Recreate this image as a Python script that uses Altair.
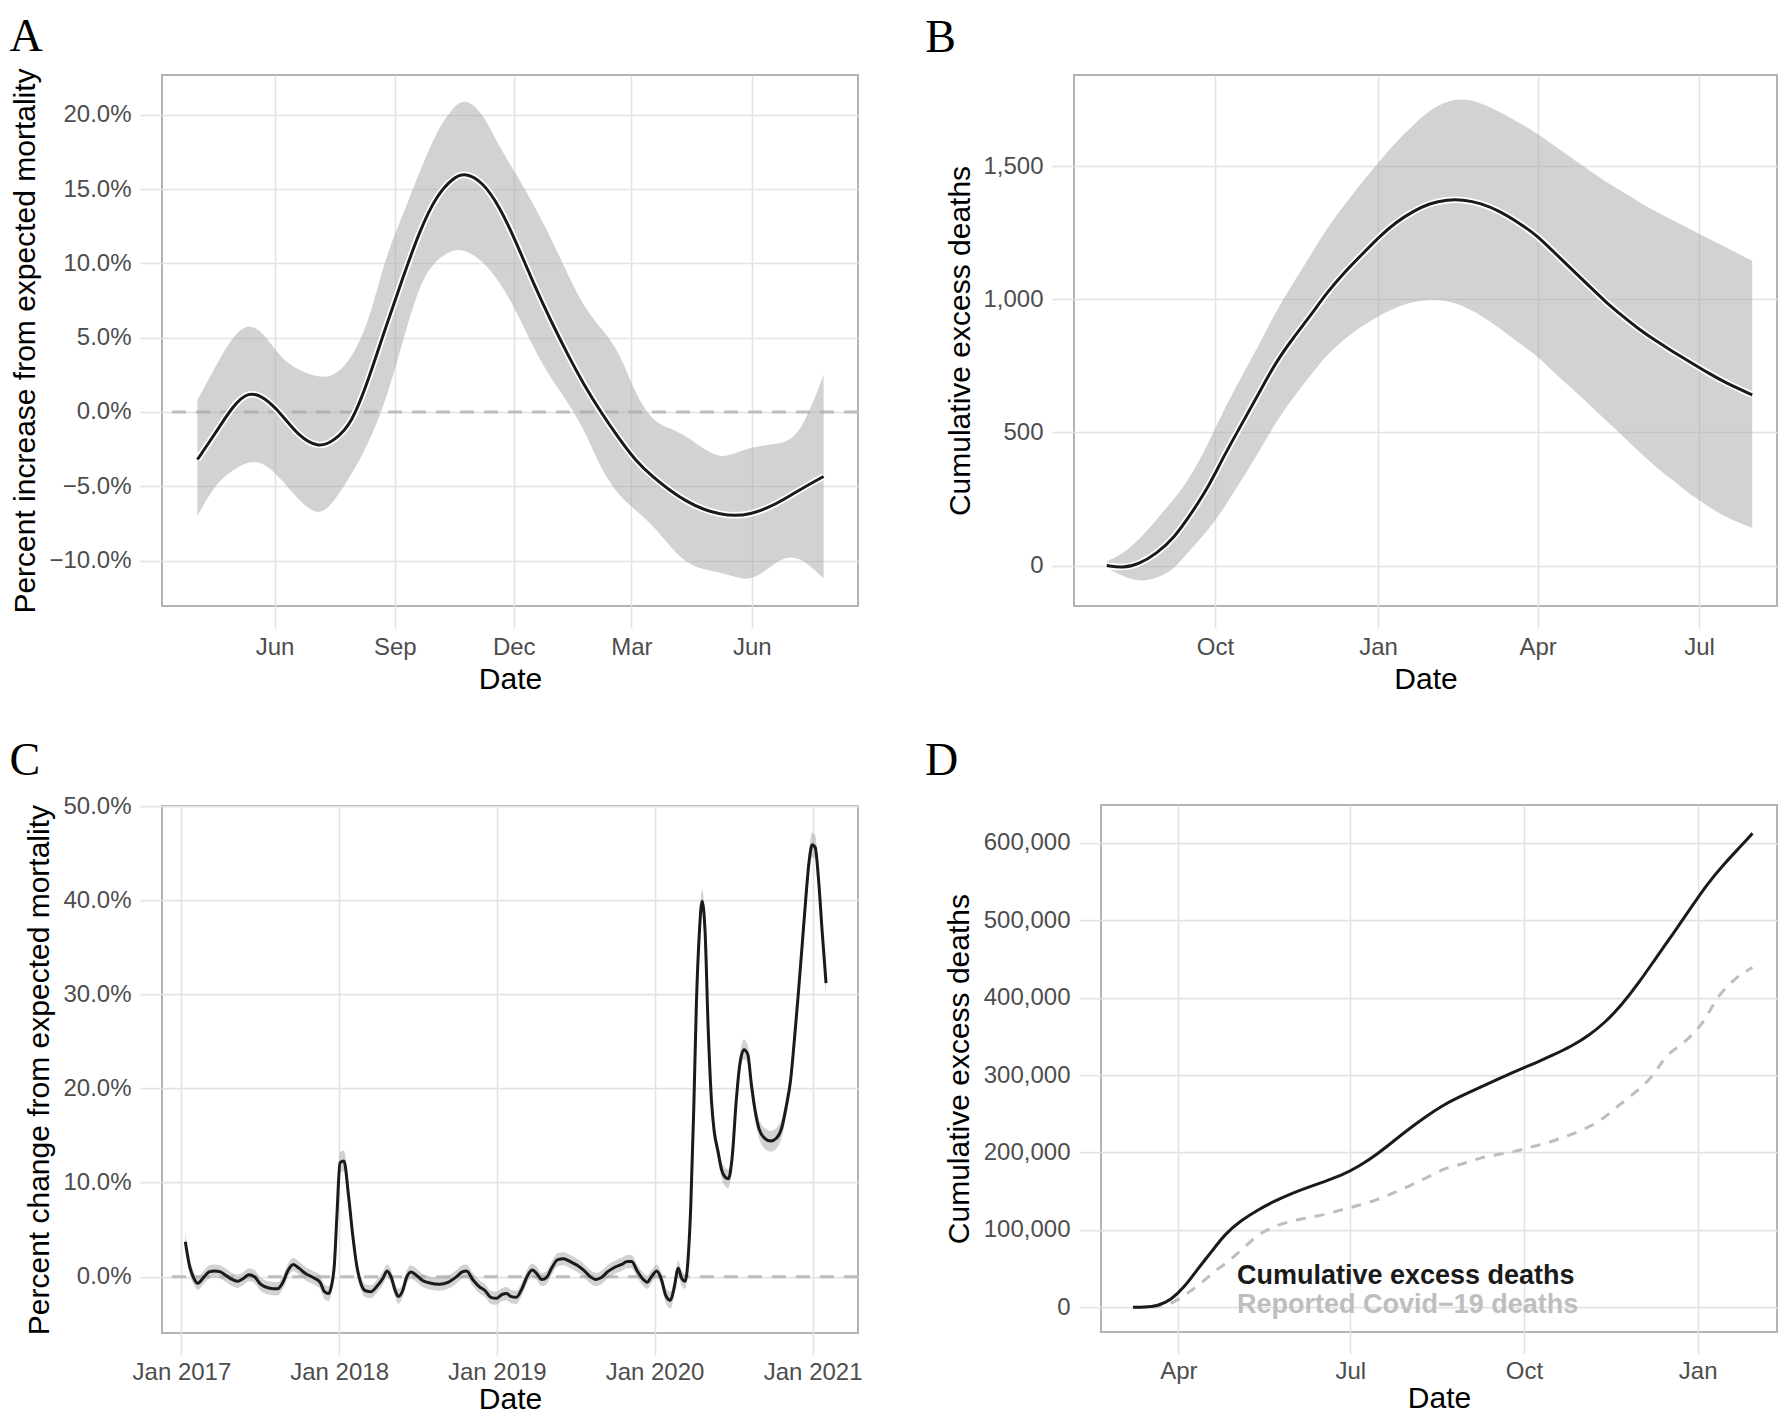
import altair as alt
import pandas as pd

SANS = "Liberation Sans"
SERIF = "Liberation Serif"
BLACK = "#1a1a1a"
RIBBON = "#a6a6a6"
LIGHT = "#bebebe"
PCT = "format(datum.value, '.1f') + '%'"
COMMA = "format(datum.value, ',')"
ZERO = [0]

# ---------------- Panel A ----------------
A_DATES = ["2017-04-03", "2017-04-17", "2017-04-30", "2017-05-12", "2017-05-24", "2017-06-06",
           "2017-06-19", "2017-07-05", "2017-07-17", "2017-07-30", "2017-08-12", "2017-08-25",
           "2017-09-07", "2017-09-20", "2017-10-03", "2017-10-16", "2017-10-25", "2017-11-07",
           "2017-11-20", "2017-12-03", "2017-12-16", "2017-12-29", "2018-01-11", "2018-01-24",
           "2018-02-06", "2018-02-19", "2018-03-04", "2018-03-17", "2018-03-30", "2018-04-12",
           "2018-04-25", "2018-05-08", "2018-05-19", "2018-05-31", "2018-06-13", "2018-06-26",
           "2018-07-09", "2018-07-26"]
A_MEAN = [-3.2, -1.4, 0.4, 1.4, 1.0, -0.1, -1.6, -2.45, -1.9, -0.8, 2.2, 5.7, 9.0, 12.2, 14.6,
          15.8, 16.1, 15.5, 13.85, 11.4, 8.65, 6.2, 3.9, 1.77, -0.06, -1.74, -3.27, -4.34, -5.26,
          -6.02, -6.57, -6.88, -7.0, -6.88, -6.48, -5.87, -5.17, -4.34]
A_HI = [0.8, 3.1, 5.1, 6.0, 5.3, 3.6, 2.8, 2.3, 2.4, 3.6, 6.0, 10.5, 13.2, 16.2, 18.9, 20.6, 21.1,
        20.2, 17.8, 16.0, 14.0, 11.8, 9.3, 7.0, 5.6, 4.2, 1.2, -0.6, -1.1, -1.6, -2.5, -3.1, -2.8,
        -2.4, -2.2, -2.1, -1.4, 2.5]
A_LO = [-7.0, -4.8, -3.9, -3.3, -3.4, -4.5, -5.9, -7.1, -6.0, -4.2, -2.1, 0.7, 4.7, 8.7, 10.3,
        10.95, 10.9, 10.2, 8.8, 6.8, 4.3, 2.3, 0.7, -1.2, -3.9, -5.6, -6.6, -7.6, -9.0, -10.2,
        -10.6, -10.8, -11.1, -11.35, -10.6, -9.7, -9.8, -11.2]
A_XTICKS = ["2017-06-01", "2017-09-01", "2017-12-01", "2018-03-01", "2018-06-01"]
A_XDOMAIN = ["2017-03-06T22:00", "2018-08-21T07:00"]
A_YTICKS = [-10, -5, 0, 5, 10, 15, 20]
A_YDOMAIN = [-13.06, 22.68]
A_YTITLE = "Percent increase from expected mortality"

# ---------------- Panel B ----------------
B_DATES = ["2017-08-01", "2017-08-10", "2017-08-19", "2017-08-29", "2017-09-08", "2017-09-17",
           "2017-09-27", "2017-10-06", "2017-10-16", "2017-10-26", "2017-11-04", "2017-11-14",
           "2017-11-24", "2017-12-03", "2017-12-13", "2017-12-23", "2018-01-02", "2018-01-11",
           "2018-01-21", "2018-01-30", "2018-02-09", "2018-02-18", "2018-02-28", "2018-03-10",
           "2018-03-23", "2018-04-01", "2018-04-10", "2018-04-20", "2018-04-30", "2018-05-09",
           "2018-05-19", "2018-05-28", "2018-06-07", "2018-06-17", "2018-06-26", "2018-07-06",
           "2018-07-16", "2018-07-31"]
B_MEAN = [0, -10, 5, 44, 104, 189, 291, 411, 530, 649, 760, 854, 939, 1024, 1101, 1169, 1237,
          1289, 1331, 1360, 1374, 1374, 1360, 1333, 1280, 1237, 1178, 1114, 1050, 992, 936, 888,
          842, 800, 764, 724, 686, 641]
B_HI = [15, 44, 95, 172, 250, 330, 455, 585, 710, 830, 950, 1060, 1165, 1265, 1355, 1440, 1520,
        1590, 1655, 1710, 1745, 1754, 1737, 1706, 1658, 1621, 1578, 1531, 1485, 1442, 1403, 1365,
        1328, 1294, 1263, 1229, 1195, 1144]
B_LO = [-7, -41, -61, -49, -15, 60, 130, 215, 320, 430, 535, 630, 715, 790, 850, 900, 940, 970,
        990, 1000, 995, 975, 940, 895, 828, 786, 726, 666, 607, 547, 487, 428, 368, 317, 266,
        223, 181, 141]
B_XTICKS = ["2017-10-01", "2018-01-01", "2018-04-01", "2018-07-01"]
B_XDOMAIN = ["2017-07-13T12:00", "2018-08-14T00:00"]
B_YTICKS = [0, 500, 1000, 1500]
B_YDOMAIN = [-152, 1842]
B_YTITLE = "Cumulative excess deaths"

# ---------------- Panel C ----------------
C_DATES = [
    "2017-01-10", "2017-01-19", "2017-01-30", "2017-02-08", "2017-02-21", "2017-03-06", "2017-03-19", "2017-04-01", "2017-04-15", "2017-04-28",
    "2017-05-11", "2017-05-24", "2017-06-06", "2017-06-19", "2017-07-03", "2017-07-22", "2017-08-11", "2017-08-24", "2017-09-04", "2017-09-17",
    "2017-09-30", "2017-10-16", "2017-11-02", "2017-11-18", "2017-11-28", "2017-12-08", "2017-12-14", "2017-12-21", "2017-12-27", "2018-01-03",
    "2018-01-12", "2018-01-23", "2018-02-02", "2018-02-11", "2018-02-21", "2018-03-03", "2018-03-16", "2018-03-29", "2018-04-12", "2018-04-22",
    "2018-05-01", "2018-05-11", "2018-05-18", "2018-05-28", "2018-06-06", "2018-06-16", "2018-06-30", "2018-07-13", "2018-08-01", "2018-08-21",
    "2018-09-10", "2018-09-30", "2018-10-13", "2018-10-23", "2018-11-06", "2018-11-21", "2018-12-05", "2018-12-18", "2018-12-31", "2019-01-13",
    "2019-01-24", "2019-02-02", "2019-02-15", "2019-02-28", "2019-03-13", "2019-03-24", "2019-04-02", "2019-04-15", "2019-04-26", "2019-05-09",
    "2019-05-22", "2019-06-04", "2019-06-20", "2019-07-06", "2019-07-23", "2019-08-05", "2019-08-18", "2019-08-31", "2019-09-14", "2019-10-01",
    "2019-10-17", "2019-10-30", "2019-11-09", "2019-11-22", "2019-12-06", "2019-12-15", "2019-12-25", "2020-01-06", "2020-01-17", "2020-01-27",
    "2020-02-07", "2020-02-15", "2020-02-25", "2020-03-04", "2020-03-12", "2020-03-20", "2020-03-25", "2020-04-01", "2020-04-07", "2020-04-14",
    "2020-04-20", "2020-04-27", "2020-05-04", "2020-05-12", "2020-05-18", "2020-05-27", "2020-06-04", "2020-06-12", "2020-06-20", "2020-06-29",
    "2020-07-08", "2020-07-16", "2020-07-26", "2020-08-04", "2020-08-12", "2020-08-21", "2020-08-30", "2020-09-12", "2020-09-26", "2020-10-09",
    "2020-10-22", "2020-11-01", "2020-11-11", "2020-11-20", "2020-11-28", "2020-12-07", "2020-12-16", "2020-12-24", "2020-12-31", "2021-01-07",
    "2021-01-15", "2021-01-23", "2021-02-01"]
C_MEAN = [
    3.7, 1.3, -0.2, -0.7, -0.1, 0.5, 0.6, 0.5, 0.1, -0.3,
    -0.5, -0.2, 0.2, 0.0, -0.8, -1.2, -1.3, -0.6, 0.6, 1.3,
    0.9, 0.3, -0.1, -0.6, -1.6, -1.8, -1.05, 1.3, 6.6, 12.1,
    12.3, 8.5, 4.2, 1.1, -0.8, -1.5, -1.6, -1.05, -0.2, 0.6,
    0.0, -1.5, -2.1, -1.5, -0.1, 0.5, 0.1, -0.4, -0.7, -0.8,
    -0.6, 0.0, 0.5, 0.6, -0.3, -1.05, -1.5, -2.2, -2.3, -1.9,
    -1.8, -2.1, -2.2, -1.3, 0.1, 0.7, 0.4, -0.3, -0.1, 1.0,
    1.8, 1.9, 1.6, 1.2, 0.6, 0.0, -0.3, -0.1, 0.5, 1.0,
    1.3, 1.6, 1.6, 0.6, -0.3, -0.6, 0.0, 0.6, -0.3, -2.0,
    -2.5, -1.3, 0.9, -0.2, -0.5, 2.8, 7.6, 18.1, 29.1, 36.7,
    39.9, 36.7, 26.7, 18.6, 15.5, 13.3, 11.4, 10.6, 10.4, 12.8,
    18.6, 22.4, 24.1, 23.6, 20.5, 17.6, 15.7, 14.7, 14.4, 14.7,
    15.9, 18.1, 20.9, 25.3, 29.6, 34.8, 40.1, 44.2, 45.9, 45.6,
    42.0, 36.7, 31.2]
C_LO = [
    2.9, 0.5, -0.9, -1.4, -0.8, -0.2, -0.1, -0.2, -0.6, -1.0,
    -1.2, -0.9, -0.5, -0.7, -1.5, -1.9, -2.0, -1.3, -0.1, 0.6,
    0.2, -0.4, -0.8, -1.3, -2.4, -2.6, -1.8, 0.5, 5.7, 11.0,
    11.2, 7.5, 3.3, 0.3, -1.5, -2.2, -2.3, -1.75, -0.9, -0.1,
    -0.7, -2.2, -2.9, -2.2, -0.8, -0.2, -0.6, -1.1, -1.4, -1.5,
    -1.3, -0.7, -0.2, -0.1, -1.0, -1.75, -2.2, -2.9, -3.0, -2.6,
    -2.5, -2.8, -2.9, -2.0, -0.6, 0.0, -0.3, -1.0, -0.8, 0.3,
    1.1, 1.2, 0.9, 0.5, -0.1, -0.7, -1.0, -0.8, -0.2, 0.3,
    0.6, 0.9, 0.9, -0.1, -1.0, -1.3, -0.7, -0.1, -1.0, -2.8,
    -3.4, -2.1, 0.1, -1.0, -1.3, 2.0, 6.8, 17.2, 28.1, 35.6,
    38.8, 35.6, 25.7, 17.7, 14.6, 12.4, 10.5, 9.6, 9.4, 11.9,
    17.7, 21.4, 23.1, 22.6, 19.5, 16.6, 14.7, 13.6, 13.3, 13.6,
    14.9, 17.1, 19.9, 24.3, 28.6, 33.7, 39.0, 43.0, 44.6, 44.3,
    40.8, 35.5, 29.8]
C_HI = [
    4.6, 2.1, 0.5, 0.0, 0.6, 1.2, 1.3, 1.2, 0.8, 0.4,
    0.2, 0.5, 0.9, 0.7, -0.1, -0.5, -0.6, 0.1, 1.3, 2.0,
    1.6, 1.0, 0.6, 0.1, -0.8, -1.0, -0.3, 2.1, 7.5, 13.2,
    13.4, 9.5, 5.1, 1.9, -0.1, -0.8, -0.9, -0.35, 0.5, 1.3,
    0.7, -0.8, -1.3, -0.8, 0.6, 1.2, 0.8, 0.3, 0.0, -0.1,
    0.1, 0.7, 1.2, 1.3, 0.4, -0.35, -0.8, -1.5, -1.6, -1.2,
    -1.1, -1.4, -1.5, -0.6, 0.8, 1.4, 1.1, 0.4, 0.6, 1.7,
    2.5, 2.6, 2.3, 1.9, 1.3, 0.7, 0.4, 0.6, 1.2, 1.7,
    2.0, 2.3, 2.3, 1.3, 0.4, 0.1, 0.7, 1.3, 0.4, -1.2,
    -1.6, -0.5, 1.7, 0.6, 0.3, 3.6, 8.4, 19.0, 30.1, 37.8,
    41.1, 37.8, 27.7, 19.5, 16.4, 14.2, 12.3, 11.6, 11.4, 13.7,
    19.5, 23.4, 25.2, 24.6, 21.5, 18.6, 16.7, 15.8, 15.5, 15.8,
    16.9, 19.1, 21.9, 26.3, 30.6, 35.9, 41.2, 45.4, 47.2, 46.9,
    43.2, 37.9, 32.6]
C_XTICKS = ["2017-01-01", "2018-01-01", "2019-01-01", "2020-01-01", "2021-01-01"]
C_XDOMAIN = ["2016-11-17", "2021-04-16"]
C_YTICKS = [0, 10, 20, 30, 40, 50]
C_YDOMAIN = [-6.0, 50.0]
C_YTITLE = "Percent change from expected mortality"

# ---------------- Panel D ----------------
D_EXCESS_DATES = ["2020-03-08", "2020-03-14", "2020-03-21", "2020-03-28", "2020-04-04", "2020-04-11",
                  "2020-04-19", "2020-04-26", "2020-05-04", "2020-05-13", "2020-05-22", "2020-05-31",
                  "2020-06-09", "2020-06-18", "2020-06-27", "2020-07-06", "2020-07-15", "2020-07-24",
                  "2020-08-02", "2020-08-11", "2020-08-20", "2020-08-30", "2020-09-08", "2020-09-17",
                  "2020-09-26", "2020-10-08", "2020-10-17", "2020-10-26", "2020-11-04", "2020-11-13",
                  "2020-11-22", "2020-12-01", "2020-12-10", "2020-12-19", "2020-12-28", "2021-01-06",
                  "2021-01-15", "2021-01-24", "2021-01-30"]
D_EXCESS = [0, 0, 1700, 9300, 25600, 48900, 73300, 95500, 111800, 125700, 137400, 147300, 155400,
            163000, 171100, 182800, 197300, 214800, 232200, 248000, 262500, 274200, 284600, 294500,
            304400, 316600, 326500, 337000, 350400, 367900, 391200, 419700, 451700, 482500, 514600,
            546600, 572800, 596000, 612300]
D_REPORTED_DATES = ["2020-03-08", "2020-03-14", "2020-03-21", "2020-03-29", "2020-04-05", "2020-04-13",
                    "2020-04-20", "2020-04-28", "2020-05-06", "2020-05-13", "2020-05-22", "2020-05-31",
                    "2020-06-09", "2020-06-18", "2020-06-27", "2020-07-06", "2020-07-15", "2020-07-24",
                    "2020-08-02", "2020-08-11", "2020-08-20", "2020-08-30", "2020-09-08", "2020-09-17",
                    "2020-09-26", "2020-10-05", "2020-10-14", "2020-10-23", "2020-11-01", "2020-11-10",
                    "2020-11-19", "2020-11-28", "2020-12-07", "2020-12-16", "2020-12-25", "2021-01-03",
                    "2021-01-12", "2021-01-21", "2021-01-30"]
D_REPORTED = [0, 0, 1200, 6400, 16900, 31400, 46000, 60500, 78000, 92500, 104200, 111200, 115800,
              120500, 126300, 132100, 139100, 147800, 157700, 168200, 178700, 185700, 192700, 197300,
              201400, 207200, 213000, 220600, 229300, 241000, 258400, 275900, 296300, 325400, 342800,
              366100, 401000, 424300, 438900]
D_LABELS = ["Cumulative excess deaths", "Reported Covid\u221219 deaths"]
D_LABEL_DATES = ["2020-05-02", "2020-05-02"]
D_LABEL_Y = [40000, 3000]
D_XTICKS = ["2020-04-01", "2020-07-01", "2020-10-01", "2021-01-01"]
D_XDOMAIN = ["2020-02-20", "2021-02-12T00:00"]
D_YTICKS = [0, 100000, 200000, 300000, 400000, 500000, 600000]
D_YDOMAIN = [-32000, 648700]
D_YTITLE = "Cumulative excess deaths"


def ms(s):
    return int(pd.Timestamp(s, tz="UTC").value // 1_000_000)


def x_enc(domain, ticks, fmt, label_pad=7, title_pad=5):
    return alt.X("date:T", title="Date",
                 scale=alt.Scale(type="utc", domain=[ms(d) for d in domain], nice=False),
                 axis=alt.Axis(values=[ms(t) for t in ticks],
                               labelExpr="utcFormat(datum.value, '%s')" % fmt,
                               labelPadding=label_pad, titlePadding=title_pad))


def y_enc(field, title, domain, ticks, expr, extent, pad):
    return alt.Y(field + ":Q", title=title,
                 scale=alt.Scale(domain=domain, nice=False, zero=False),
                 axis=alt.Axis(values=ticks, labelExpr=expr, minExtent=extent,
                               maxExtent=extent, titlePadding=pad))


def letter(t, dx, dy):
    return alt.TitleParams(text=t, anchor="start", frame="group", font=SERIF, fontSize=46,
                           fontWeight="normal", color="black", dx=dx, dy=dy, offset=0,
                           baseline="alphabetic")


# ---- A ----
dfA = pd.DataFrame({"date": A_DATES, "mean": A_MEAN, "lo": A_LO, "hi": A_HI})
xA = x_enc(A_XDOMAIN, A_XTICKS, "%b")


def yA(f):
    return y_enc(f, A_YTITLE, A_YDOMAIN, A_YTICKS, PCT, 112, 10)


zeroA = alt.Chart(pd.DataFrame({"v": ZERO})).mark_rule(
    color=LIGHT, strokeWidth=3, strokeDash=[14, 10]).encode(y=yA("v"))
bandA = alt.Chart(dfA).mark_area(color=RIBBON, opacity=0.5, interpolate="basis").encode(
    x=xA, y=yA("lo"), y2="hi:Q")
haloA = alt.Chart(dfA).mark_line(color="white", strokeWidth=6.5, interpolate="basis").encode(
    x=xA, y=yA("mean"))
lineA = alt.Chart(dfA).mark_line(color=BLACK, strokeWidth=3, interpolate="basis").encode(
    x=xA, y=yA("mean"))
A = alt.layer(zeroA, bandA, haloA, lineA).properties(
    width=696, height=531, title=letter("A", -152.5, 29))

# ---- B ----
dfB = pd.DataFrame({"date": B_DATES, "mean": B_MEAN, "lo": B_LO, "hi": B_HI})
xB = x_enc(B_XDOMAIN, B_XTICKS, "%b")


def yB(f):
    return y_enc(f, B_YTITLE, B_YDOMAIN, B_YTICKS, COMMA, 91, 8)


bandB = alt.Chart(dfB).mark_area(color=RIBBON, opacity=0.5, interpolate="basis").encode(
    x=xB, y=yB("lo"), y2="hi:Q")
haloB = alt.Chart(dfB).mark_line(color="white", strokeWidth=6.5, interpolate="basis").encode(
    x=xB, y=yB("mean"))
lineB = alt.Chart(dfB).mark_line(color=BLACK, strokeWidth=3, interpolate="basis").encode(
    x=xB, y=yB("mean"))
B = alt.layer(bandB, haloB, lineB).properties(
    width=703, height=531, title=letter("B", -148.7, 23))

# ---- C ----
dfC = pd.DataFrame({"date": C_DATES, "mean": C_MEAN, "lo": C_LO, "hi": C_HI})
xC = x_enc(C_XDOMAIN, C_XTICKS, "%b %Y", label_pad=5, title_pad=0)


def yC(f):
    return y_enc(f, C_YTITLE, C_YDOMAIN, C_YTICKS, PCT, 99, 8.6)


zeroC = alt.Chart(pd.DataFrame({"v": ZERO})).mark_rule(
    color=LIGHT, strokeWidth=3, strokeDash=[14, 10]).encode(y=yC("v"))
bandC = alt.Chart(dfC).mark_area(color=RIBBON, opacity=0.5, interpolate="monotone").encode(
    x=xC, y=yC("lo"), y2="hi:Q")
lineC = alt.Chart(dfC).mark_line(color=BLACK, strokeWidth=3, interpolate="monotone").encode(
    x=xC, y=yC("mean"))
C = alt.layer(zeroC, bandC, lineC).properties(
    width=696, height=527, title=letter("C", -152.5, 26.5))

# ---- D ----
dfD1 = pd.DataFrame({"date": D_EXCESS_DATES, "value": D_EXCESS})
dfD2 = pd.DataFrame({"date": D_REPORTED_DATES, "value": D_REPORTED})
dfDL = pd.DataFrame({"date": D_LABEL_DATES, "value": D_LABEL_Y, "label": D_LABELS})
xD = x_enc(D_XDOMAIN, D_XTICKS, "%b", label_pad=5, title_pad=0)


def yD(f):
    return y_enc(f, D_YTITLE, D_YDOMAIN, D_YTICKS, COMMA, 118, 8.4)


repD = alt.Chart(dfD2).mark_line(color=LIGHT, strokeWidth=3, strokeDash=[10, 9],
                                 interpolate="monotone").encode(x=xD, y=yD("value"))
excD = alt.Chart(dfD1).mark_line(color=BLACK, strokeWidth=3, interpolate="basis").encode(
    x=xD, y=yD("value"))
txtD = alt.Chart(dfDL).mark_text(align="left", baseline="middle", font=SANS, fontSize=27,
                                 fontWeight="bold").encode(
    x=xD, y=yD("value"), text="label:N",
    color=alt.Color("label:N", scale=alt.Scale(domain=D_LABELS, range=[BLACK, LIGHT]), legend=None))
D = alt.layer(repD, excD, txtD).properties(
    width=676, height=527, title=letter("D", -176, 15.5))

chart = alt.concat(
    A, B, C, D, columns=2, align="none", spacing={"row": 41.1, "column": 60}
).properties(
    padding={"left": 0, "top": 4, "right": 0, "bottom": 0}
).configure_view(
    stroke="#b3b3b3", strokeWidth=2
).configure_axis(
    grid=True, gridColor="#e3e3e3", gridWidth=1.6, domain=False, ticks=True,
    tickColor="#e3e3e3", tickWidth=1.6, tickSize=22,
    labelFont=SANS, labelFontSize=24, labelColor="#4d4d4d", labelPadding=9,
    labelFlush=False, labelOverlap=False,
    titleFont=SANS, titleFontSize=30, titleFontWeight="normal", titleColor="black"
)

chart.save("out.html", embed_options={"renderer": "svg", "actions": False})
